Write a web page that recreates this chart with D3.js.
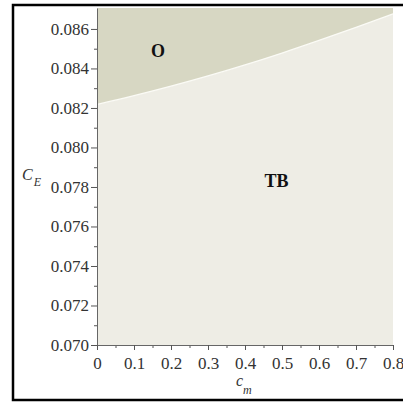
<!DOCTYPE html>
<meta charset="utf-8">
<script src="https://d3js.org/d3.v7.min.js"></script>
<style>
  html, body { margin: 0; padding: 0; background: #fff; overflow: hidden; }
  svg { display: block; }
  text { font-family: "Liberation Serif", "Times New Roman", serif; }
</style>
<div id="chart"></div>
<script>
// boundary between region O (above) and TB (below)
var cmValues = [0, 0.1, 0.2, 0.3, 0.4, 0.5, 0.6, 0.7, 0.8];
var ceBoundary = [0.08218, 0.08262, 0.08310, 0.08362, 0.08418, 0.08478, 0.08542, 0.08608, 0.08676];
var xTicks = [0, 0.1, 0.2, 0.3, 0.4, 0.5, 0.6, 0.7, 0.8];
var yTicks = [0.070, 0.072, 0.074, 0.076, 0.078, 0.080, 0.082, 0.084, 0.086];
var regionLabels = [{name: "O", cm: 0.165, ce: 0.0848}, {name: "TB", cm: 0.485, ce: 0.0782}];

var W = 403, H = 408;
var margin = {top: 8, right: 10, bottom: 63, left: 97};
var width = 393 - margin.left, height = 345 - margin.top;

var svg = d3.select("#chart").append("svg")
  .attr("width", W).attr("height", H);

// outer frame (right edge falls outside the picture)
svg.append("rect")
  .attr("x", 13).attr("y", 5).attr("width", 400).attr("height", 395)
  .attr("fill", "none").attr("stroke", "#000").attr("stroke-width", 2.5);

var g = svg.append("g").attr("transform", "translate(" + margin.left + "," + margin.top + ")");

var x = d3.scaleLinear().domain([0, 0.8]).range([0, width]);
var y = d3.scaleLinear().domain([0.070, 0.08706]).range([height, 0]);

var data = cmValues.map(function(c, i) { return {cm: c, ce: ceBoundary[i]}; });

// TB region background
g.append("rect").attr("width", width).attr("height", height).attr("fill", "#eeede5");

// O region
var area = d3.area()
  .x(function(d) { return x(d.cm); })
  .y0(0)
  .y1(function(d) { return y(d.ce); })
  .curve(d3.curveMonotoneX);
g.append("path").datum(data).attr("d", area).attr("fill", "#d7d7c3");

// boundary line
var line = d3.line()
  .x(function(d) { return x(d.cm); })
  .y(function(d) { return y(d.ce); })
  .curve(d3.curveMonotoneX);
g.append("path").datum(data).attr("d", line)
  .attr("fill", "none").attr("stroke", "#fbfbf6").attr("stroke-width", 1.3);

// minor ticks
var minorX = d3.range(0.05, 0.8, 0.1);
g.append("g").attr("transform", "translate(0," + height + ")")
  .call(d3.axisBottom(x).tickValues(minorX).tickSize(3).tickFormat(""))
  .call(function(s) { s.select(".domain").remove(); s.selectAll("line").attr("stroke", "#555"); });
var minorY = d3.range(0.071, 0.087, 0.002);
g.append("g")
  .call(d3.axisLeft(y).tickValues(minorY).tickSize(3).tickFormat(""))
  .call(function(s) { s.select(".domain").remove(); s.selectAll("line").attr("stroke", "#555"); });

// major axes
var xAxis = g.append("g").attr("transform", "translate(0," + height + ")")
  .call(d3.axisBottom(x).tickValues(xTicks).tickSize(5).tickSizeOuter(0).tickPadding(7)
    .tickFormat(function(d) { return d === 0 ? "0" : d3.format(".1f")(d); }));
var yAxis = g.append("g")
  .call(d3.axisLeft(y).tickValues(yTicks).tickSize(6).tickSizeOuter(0).tickPadding(2)
    .tickFormat(d3.format(".3f")));
[xAxis, yAxis].forEach(function(a) {
  a.attr("font-family", "Liberation Serif").attr("font-size", 17);
  a.select(".domain").attr("stroke", "#666");
  a.selectAll("line").attr("stroke", "#555");
  a.selectAll("text").attr("fill", "#333");
});

// region labels
g.selectAll(".region").data(regionLabels).enter().append("text")
  .attr("x", function(d) { return x(d.cm); })
  .attr("y", function(d) { return y(d.ce); })
  .attr("text-anchor", "middle").attr("dominant-baseline", "middle")
  .attr("font-weight", "bold").attr("font-size", 18).attr("fill", "#111")
  .text(function(d) { return d.name; });

// axis titles
var yt = svg.append("text").attr("x", 22).attr("y", 180)
  .attr("font-style", "italic").attr("font-size", 16).attr("fill", "#333");
yt.append("tspan").text("C");
yt.append("tspan").attr("dx", 1).attr("dy", 6).attr("font-size", 12).text("E");

var xt = svg.append("text").attr("x", 236).attr("y", 386)
  .attr("font-style", "italic").attr("font-size", 16).attr("fill", "#333");
xt.append("tspan").text("c");
xt.append("tspan").attr("dx", 0).attr("dy", 8).attr("font-size", 12).text("m");
</script>
